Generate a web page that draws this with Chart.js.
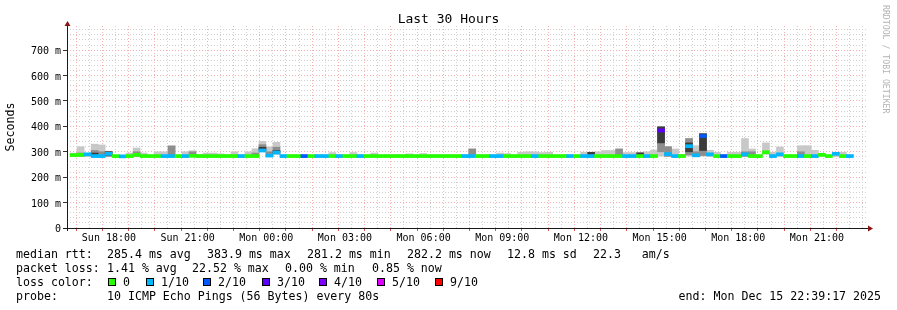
<!DOCTYPE html>
<html>
<head>
<meta charset="utf-8">
<title>Last 30 Hours</title>
<script src="https://cdn.jsdelivr.net/npm/chart.js@4/dist/chart.umd.min.js"></script>
<style>
  body { margin: 0; background: #fff; }
  #wrap { position: relative; width: 897px; height: 310px; overflow: hidden;
          font-family: "DejaVu Sans Mono", monospace; font-size: 11.6px; color: #000; }
  #chart { position: absolute; left: 0; top: 0; }
  .t { position: absolute; white-space: pre; line-height: 14px; }
  .box { position: absolute; width: 6px; height: 6px; border: 1px solid #000; }
  #title { position: absolute; left: 0; top: 11px; width: 897px; text-align: center;
           font-size: 13px; line-height: 15px; }
  #mark { position: absolute; left: 881px; top: 5px; writing-mode: vertical-rl;
          font-size: 8.2px; line-height: 10px; color: #b4b4b4; white-space: pre; }
</style>
</head>
<body>
<div id="wrap">
  <canvas id="chart" width="897" height="310"></canvas>
  <div id="title">Last 30 Hours</div>
  <div id="mark">RRDTOOL / TOBI OETIKER</div>
  <div id="legend"></div>
</div>
<script>
// time axis: hours counted from Sun 00:00, graph ends Mon 22:39:17
const START_H = 16 + 39 / 60 + 17 / 3600;
const END_H = START_H + 30;
const STEP_H = 16 / 60;          // one consolidated row = 12 x 80s
const Y_MAX = 795;

const xLabelHours = [18, 21, 24, 27, 30, 33, 36, 39, 42, 45];
const xLabels = ["Sun 18:00", "Sun 21:00", "Mon 00:00", "Mon 03:00", "Mon 06:00",
                 "Mon 09:00", "Mon 12:00", "Mon 15:00", "Mon 18:00", "Mon 21:00"];
const yLabelMs = [0, 100, 200, 300, 400, 500, 600, 700];
const yLabels = ["0", "100 m", "200 m", "300 m", "400 m", "500 m", "600 m", "700 m"];

// median rtt per row (ms)
const median = [
  287, 288, 290, 283, 283, 292, 283, 282, 283, 288,
  283, 283, 283, 283, 283, 283, 283, 284, 283, 283,
  283, 283, 283, 283, 283, 283, 283, 305, 285, 297,
  283, 283, 283, 283, 283, 283, 283, 283, 283, 283,
  283, 283, 283, 283, 283, 283, 283, 283, 283, 283,
  283, 283, 283, 283, 283, 283, 283, 283, 283, 283,
  283, 283, 283, 283, 283, 283, 283, 283, 283, 283,
  283, 283, 283, 283, 283, 283, 283, 283, 283, 283,
  283, 283, 283, 283, 384, 291, 283, 283, 322, 286,
  362, 290, 283, 283, 283, 283, 290, 283, 283, 298,
  283, 290, 283, 283, 283, 283, 283, 288, 283, 292,
  283, 283
];
// lost pings out of 10 per row
const loss = [
  0, 0, 1, 1, 1, 1, 0, 1, 0, 0,
  0, 0, 0, 1, 1, 0, 1, 0, 0, 0,
  0, 0, 0, 0, 1, 0, 0, 1, 1, 1,
  1, 0, 0, 2, 0, 1, 1, 0, 1, 0,
  0, 1, 0, 0, 0, 0, 0, 0, 0, 0,
  0, 0, 0, 0, 0, 0, 1, 1, 0, 0,
  1, 1, 0, 0, 0, 0, 1, 0, 0, 0,
  0, 1, 0, 1, 1, 0, 0, 0, 0, 1,
  1, 0, 1, 0, 3, 1, 1, 0, 1, 1,
  2, 1, 0, 2, 0, 0, 1, 0, 0, 0,
  1, 1, 0, 0, 1, 0, 1, 0, 0, 1,
  0, 1
];
// outer smoke (fastest / slowest ping)
const smokeTop = [
  295, 320, 292, 330, 327, 302, 285, 285, 295, 315,
  295, 288, 300, 300, 323, 288, 300, 304, 290, 295,
  295, 292, 290, 300, 288, 300, 312, 341, 319, 337,
  288, 288, 288, 288, 288, 288, 288, 297, 288, 288,
  297, 288, 288, 295, 288, 288, 288, 288, 292, 288,
  293, 288, 288, 288, 288, 288, 288, 311, 288, 288,
  288, 295, 293, 288, 298, 300, 300, 297, 298, 288,
  288, 288, 288, 298, 298, 300, 305, 305, 311, 297,
  297, 297, 300, 307, 398, 320, 311, 290, 352, 324,
  371, 306, 298, 288, 298, 298, 352, 311, 288, 335,
  298, 319, 288, 288, 324, 324, 306, 288, 288, 288,
  298, 288
];
const smokeBottom = [
  281, 281, 281, 281, 281, 281, 281, 281, 281, 281,
  281, 281, 281, 281, 281, 281, 281, 281, 281, 281,
  281, 281, 281, 281, 281, 281, 281, 300, 281, 290,
  281, 281, 281, 281, 281, 281, 281, 281, 281, 281,
  281, 281, 281, 281, 281, 281, 281, 281, 281, 281,
  281, 281, 281, 281, 281, 281, 281, 281, 281, 281,
  281, 281, 281, 281, 281, 281, 281, 281, 281, 281,
  281, 281, 281, 281, 281, 281, 281, 281, 281, 281,
  281, 281, 281, 281, 283, 281, 281, 281, 283, 281,
  283, 281, 281, 281, 281, 281, 281, 281, 281, 290,
  281, 281, 281, 281, 281, 281, 281, 281, 281, 281,
  281, 281
];
// inner smoke bands, only where visible
const midRows   = [1, 3, 4, 5, 9, 14, 17, 26, 27, 28, 29, 57, 78, 84, 85, 88, 89, 90, 96, 97, 104];
const midBottom = [283, 283, 282, 282, 282, 282, 282, 282, 302, 282, 292, 282, 282, 300, 282, 288, 282, 285, 282, 282, 282];
const midTop    = [295, 305, 300, 302, 300, 323, 300, 295, 328, 300, 318, 311, 311, 398, 320, 352, 300, 371, 300, 300, 300];
const darkRows   = [3, 5, 27, 29, 74, 81, 84, 88, 90];
const darkBottom = [283, 286, 307, 294, 282, 282, 335, 300, 305];
const darkTop    = [295, 300, 318, 305, 298, 296, 398, 335, 371];

const lossLabels = ["0", "1/10", "2/10", "3/10", "4/10", "5/10", "9/10"];
const lossColors = ["#26ff00", "#00b8ff", "#0059ff", "#5e00ff", "#7e00ff", "#dd00ff", "#ff0000"];

const rttStats = ["285.4 ms avg", "383.9 ms max", "281.2 ms min", "282.2 ms now", "12.8 ms sd", "22.3   am/s"];
const lossStats = ["1.41 % avg", "22.52 % max", "0.00 % min", "0.85 % now"];
const probeText = "10 ICMP Echo Pings (56 Bytes) every 80s";
const endText = "end: Mon Dec 15 22:39:17 2025";

// ---- legend below the graph ----
const rttX = [107, 207, 307, 407, 507, 593];
const lossX = [107, 192, 285, 372];
const boxX = [108, 146, 203, 262, 319, 377, 435];
const rowTop = [247, 261, 275, 289];

function addText(txt, left, top) {
  const el = document.createElement("div");
  el.className = "t";
  el.textContent = txt;
  el.style.left = left + "px";
  el.style.top = top + "px";
  document.getElementById("legend").appendChild(el);
  return el;
}

addText("median rtt:", 16, rowTop[0]);
rttStats.forEach((s, i) => addText(s, rttX[i], rowTop[0]));
addText("packet loss:", 16, rowTop[1]);
lossStats.forEach((s, i) => addText(s, lossX[i], rowTop[1]));
addText("loss color:", 16, rowTop[2]);
lossLabels.forEach((s, i) => {
  const b = document.createElement("div");
  b.className = "box";
  b.style.left = boxX[i] + "px";
  b.style.top = (rowTop[2] + 3) + "px";
  b.style.background = lossColors[i];
  document.getElementById("legend").appendChild(b);
  addText(s, boxX[i] + 15, rowTop[2]);
});
addText("probe:", 16, rowTop[3]);
addText(probeText, 107, rowTop[3]);
const endEl = addText(endText, 0, rowTop[3]);
endEl.style.left = "auto";
endEl.style.right = "16px";

// ---- chart ----
const FONT = { family: "DejaVu Sans Mono", size: 11.6 };
const TICK_FONT = { family: "DejaVu Sans Mono", size: 10 };
const RED = "#f6b2b2";
const GRAY = "#d0d0d0";

const binX = median.map((_, i) => START_H + i * STEP_H);
const xGrid = [];
for (let h = 17; h < END_H; h += 0.5) xGrid.push(h);
const yGrid = [];
for (let v = 0; v < Y_MAX; v += 20) yGrid.push(v);

function span(rows, lo, hi) {
  return rows.map((r, j) => ({ x: binX[r], y: [lo[j], hi[j]] }));
}
const allRows = median.map((_, i) => i);

const common = { grouped: false, barPercentage: 1, categoryPercentage: 1, borderWidth: 0 };

const axesPlugin = {
  id: "rrdAxes",
  afterDatasetsDraw(chart) {
    const { ctx, chartArea: a } = chart;
    const yb = Math.round(a.bottom) + 0.5;
    const xl = Math.round(a.left) + 0.5;
    ctx.save();
    ctx.strokeStyle = "#1a1a1a";
    ctx.lineWidth = 1;
    ctx.beginPath();
    ctx.moveTo(a.left - 4, yb);
    ctx.lineTo(a.right + 2, yb);
    ctx.moveTo(xl, a.bottom + 3);
    ctx.lineTo(xl, a.top - 1);
    ctx.stroke();
    ctx.fillStyle = "#8a1515";
    ctx.beginPath();
    ctx.moveTo(a.right + 6, yb);
    ctx.lineTo(a.right + 1, yb - 3);
    ctx.lineTo(a.right + 1, yb + 3);
    ctx.closePath();
    ctx.fill();
    ctx.beginPath();
    ctx.moveTo(xl, a.top - 5);
    ctx.lineTo(xl - 3, a.top);
    ctx.lineTo(xl + 3, a.top);
    ctx.closePath();
    ctx.fill();
    ctx.restore();
  }
};

new Chart(document.getElementById("chart"), {
  type: "bar",
  data: {
    datasets: [
      { ...common, label: "median", order: 0,
        data: median.map((m, i) => ({ x: binX[i], y: [m - 6, m + 6] })),
        backgroundColor: loss.map(l => lossColors[Math.min(l, 5)]) },
      { ...common, label: "smoke inner", order: 1,
        data: span(darkRows, darkBottom, darkTop), backgroundColor: "#3c3c3c" },
      { ...common, label: "smoke mid", order: 2,
        data: span(midRows, midBottom, midTop), backgroundColor: "#8e8e8e" },
      { ...common, label: "smoke outer", order: 3,
        data: span(allRows, smokeBottom, smokeTop), backgroundColor: "#c8c8c8" }
    ]
  },
  options: {
    responsive: false,
    animation: false,
    devicePixelRatio: 1,
    layout: { padding: { left: 0, right: 30, top: 26, bottom: 66 } },
    plugins: { legend: { display: false }, tooltip: { enabled: false }, title: { display: false } },
    scales: {
      x: {
        type: "linear", min: START_H, max: END_H,
        afterBuildTicks: s => { s.ticks = xGrid.map(v => ({ value: v })); },
        afterFit: s => { s.height = 16; },
        ticks: {
          autoSkip: false, maxRotation: 0, minRotation: 0, padding: 1,
          font: TICK_FONT, color: "#000",
          callback: v => { const k = xLabelHours.indexOf(v); return k < 0 ? "" : xLabels[k]; }
        },
        grid: {
          color: c => (c.tick && c.tick.value % 1 === 0 ? RED : GRAY),
          tickColor: c => (c.tick && c.tick.value % 1 === 0 ? "#e05050" : "rgba(0,0,0,0)"),
          tickLength: 3, lineWidth: 1
        },
        border: { display: false, dash: [1, 2] }
      },
      y: {
        min: 0, max: Y_MAX,
        afterBuildTicks: s => { s.ticks = yGrid.map(v => ({ value: v })); },
        afterFit: s => { s.width = 67; },
        ticks: {
          autoSkip: false, padding: 2, labelOffset: 1.5, font: TICK_FONT, color: "#000",
          callback: v => { const k = yLabelMs.indexOf(v); return k < 0 ? "" : yLabels[k]; }
        },
        grid: {
          color: c => (c.tick && c.tick.value % 100 === 0 ? RED : GRAY),
          tickColor: c => (c.tick && c.tick.value % 100 === 0 ? "#333" : "rgba(0,0,0,0)"),
          tickLength: 4, lineWidth: 1
        },
        border: { display: false, dash: [1, 2] },
        title: { display: true, text: "Seconds", font: FONT, color: "#000", padding: { top: 4, bottom: 0 } }
      }
    }
  },
  plugins: [axesPlugin]
});
</script>
</body>
</html>
